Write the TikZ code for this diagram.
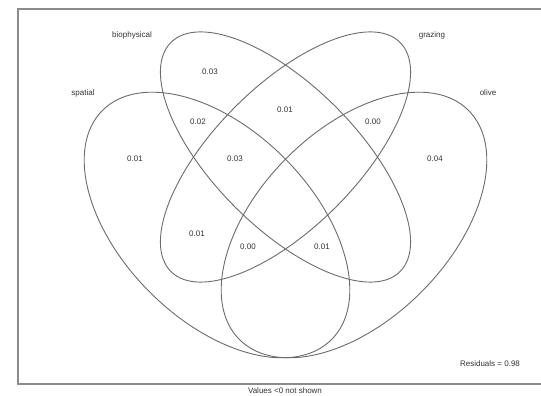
\documentclass[tikz,border=0pt]{standalone}
\usepackage{fontspec}
\setmainfont{Liberation Sans}

\begin{document}
\begin{tikzpicture}[x=1pt,y=1pt,
                    set/.style={draw=black!58,line width=0.9pt},
                    value/.style={font=\fontsize{8}{9}\selectfont,
                                  text=black!80,inner sep=0pt},
                    setname/.style={value}]
  \useasboundingbox (0,0) rectangle (541,396);
  \draw[black!45,line width=1.2pt] (18,12) rectangle (560,387);
  % the four sets, outer pair wider than the inner pair
  \draw[set,rotate around={-45:(217,171)}] (217,171)
       ellipse [x radius=162pt,y radius=95pt];
  \draw[set,rotate around={45:(354,171)}] (354,171)
       ellipse [x radius=162pt,y radius=95pt];
  \draw[set,rotate around={-45:(285.5,239)}] (285.5,239)
       ellipse [x radius=162pt,y radius=71pt];
  \draw[set,rotate around={45:(285.5,239)}] (285.5,239)
       ellipse [x radius=162pt,y radius=71pt];
  \node[setname] (bio) at (132,361) {biophysical};
  \node[setname] (spa) at (83,303) {spatial};
  \node[setname] (gra) at (432,361) {grazing};
  \node[setname] (oli) at (488,303) {olive};
  \node[value] (vB) at (210,324) {0.03};
  \node[value] (vBG) at (285,286) {0.01};
  \node[value] (vSB) at (198,274) {0.02};
  \node[value] (vGO) at (373,274) {0.00};
  \node[value] (vS) at (135,237) {0.01};
  \node[value] (vSBG) at (235,237) {0.03};
  \node[value] (vO) at (435,237) {0.04};
  \node[value] (vSG) at (197,162) {0.01};
  \node[value] (vSGO) at (248,149) {0.00};
  \node[value] (vSBO) at (322,149) {0.01};
  \node[value] (resid) at (490,32) {Residuals = 0.98};
  \node[value] (note) at (285,5) {Values <0 not shown};
\end{tikzpicture}
\end{document}
